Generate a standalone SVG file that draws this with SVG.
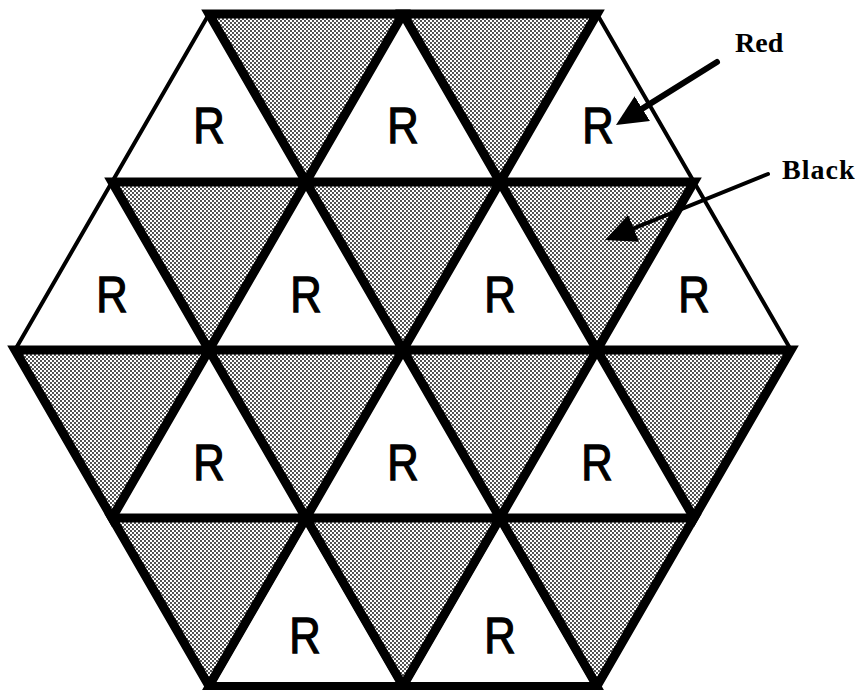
<svg xmlns="http://www.w3.org/2000/svg" width="860" height="690" viewBox="0 0 860 690">
  <style>
    .w { fill: #ffffff; stroke: #000; stroke-width: 4; stroke-linejoin: round; }
    .wb { fill: #ffffff; stroke: #000; stroke-width: 8; stroke-linejoin: miter; }
    .g { fill: url(#dots); stroke: #000; stroke-width: 9; stroke-linejoin: miter; stroke-miterlimit: 4; }
    .r { font-family: "Liberation Sans", Arial, sans-serif; font-size: 50px; fill: #000; stroke: #000; stroke-width: 1.3; text-anchor: middle; }
    .lbl { font-family: "Liberation Serif", "Times New Roman", serif; font-size: 28px; font-weight: bold; fill: #000; }
    .arrow { stroke: #000; fill: none; stroke-linecap: round; marker-end: url(#head); }
  </style>
  <defs>
    <pattern id="dots" patternUnits="userSpaceOnUse" width="4" height="4">
      <rect width="4" height="4" fill="#ffffff"/>
      <circle cx="1" cy="1" r="0.9" fill="#000"/>
      <circle cx="3" cy="3" r="0.9" fill="#000"/>
    </pattern>
    <marker id="head" markerUnits="userSpaceOnUse" viewBox="0 0 31 29" refX="0" refY="14.5" markerWidth="31" markerHeight="29" orient="auto">
      <path d="M0,0 L31,14.5 L0,29 Z" fill="#000"/>
    </marker>
  </defs>

  <!-- white (R) triangles -->
  <g id="r1a"><polygon class="w" points="209,14 112,182 306,182"/><text class="r" transform="translate(209,143) scale(0.87,1)">R</text></g>
  <g id="r1b"><polygon class="w" points="403,14 306,182 500,182"/><text class="r" transform="translate(403,143) scale(0.87,1)">R</text></g>
  <g id="r1c"><polygon class="w" points="597,14 500,182 694,182"/><text class="r" transform="translate(598,143) scale(0.87,1)">R</text></g>

  <g id="r2a"><polygon class="w" points="112,182 15,350 209,350"/><text class="r" transform="translate(112,312) scale(0.87,1)">R</text></g>
  <g id="r2b"><polygon class="w" points="306,182 209,350 403,350"/><text class="r" transform="translate(306,312) scale(0.87,1)">R</text></g>
  <g id="r2c"><polygon class="w" points="500,182 403,350 597,350"/><text class="r" transform="translate(500,312) scale(0.87,1)">R</text></g>
  <g id="r2d"><polygon class="w" points="694,182 597,350 791,350"/><text class="r" transform="translate(694,312) scale(0.87,1)">R</text></g>

  <g id="r3a"><polygon class="w" points="209,350 112,518 306,518"/><text class="r" transform="translate(209,480) scale(0.87,1)">R</text></g>
  <g id="r3b"><polygon class="w" points="403,350 306,518 500,518"/><text class="r" transform="translate(403,480) scale(0.87,1)">R</text></g>
  <g id="r3c"><polygon class="w" points="597,350 500,518 694,518"/><text class="r" transform="translate(597,480) scale(0.87,1)">R</text></g>

  <g id="r4a"><polygon class="wb" points="306,518 209,686 403,686"/><text class="r" transform="translate(305,653) scale(0.87,1)">R</text></g>
  <g id="r4b"><polygon class="wb" points="500,518 403,686 597,686"/><text class="r" transform="translate(500,653) scale(0.87,1)">R</text></g>

  <!-- gray (black) triangles -->
  <g id="b1a"><polygon class="g" points="209,14 403,14 306,182"/></g>
  <g id="b1b"><polygon class="g" points="403,14 597,14 500,182"/></g>

  <g id="b2a"><polygon class="g" points="112,182 306,182 209,350"/></g>
  <g id="b2b"><polygon class="g" points="306,182 500,182 403,350"/></g>
  <g id="b2c"><polygon class="g" points="500,182 694,182 597,350"/></g>

  <g id="b3a"><polygon class="g" points="15,350 209,350 112,518"/></g>
  <g id="b3b"><polygon class="g" points="209,350 403,350 306,518"/></g>
  <g id="b3c"><polygon class="g" points="403,350 597,350 500,518"/></g>
  <g id="b3d"><polygon class="g" points="597,350 791,350 694,518"/></g>

  <g id="b4a"><polygon class="g" points="112,518 306,518 209,686"/></g>
  <g id="b4b"><polygon class="g" points="306,518 500,518 403,686"/></g>
  <g id="b4c"><polygon class="g" points="500,518 694,518 597,686"/></g>

  <!-- labels -->
  <g id="label-red"><text class="lbl" x="735" y="52">Red</text></g>
  <g id="label-black"><text class="lbl" x="782" y="179" letter-spacing="1">Black</text></g>

  <!-- connectors -->
  <g id="connectors">
    <line class="arrow" x1="717" y1="62" x2="642.3" y2="108.6" stroke-width="6"/>
    <line class="arrow" x1="768" y1="174" x2="633.7" y2="228.4" stroke-width="4"/>
  </g>
</svg>
